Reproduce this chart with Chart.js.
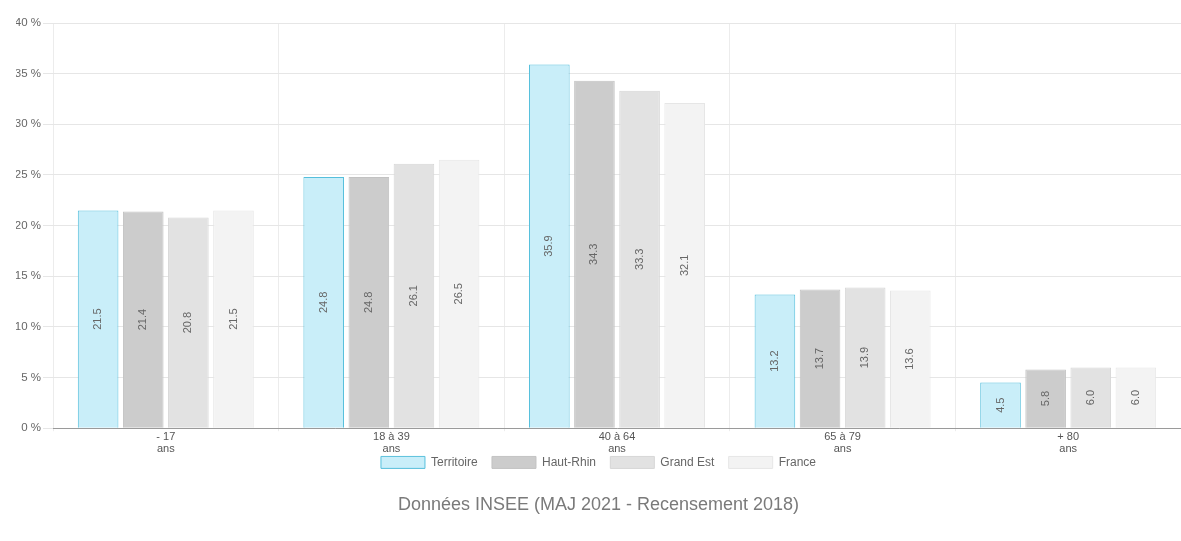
<!DOCTYPE html>
<html>
<head>
<meta charset="utf-8">
<script src="https://cdn.jsdelivr.net/npm/chart.js@4"></script>
<style>
html,body{margin:0;padding:0;background:#fff;}
#wrap{width:1181px;height:541px;position:relative;}
</style>
</head>
<body>
<div id="wrap"><canvas id="c"></canvas></div>
<script>
const categories = [['- 17','ans'],['18 à 39','ans'],['40 à 64','ans'],['65 à 79','ans'],['+ 80','ans']];
const seriesNames = ['Territoire','Haut-Rhin','Grand Est','France'];
const territoire = [21.5, 24.8, 35.9, 13.2, 4.5];
const hautRhin = [21.4, 24.8, 34.3, 13.7, 5.8];
const grandEst = [20.8, 26.1, 33.3, 13.9, 6.0];
const france = [21.5, 26.5, 32.1, 13.6, 6.0];
const yTicks = [0,5,10,15,20,25,30,35,40];
const titleText = 'Données INSEE (MAJ 2021 - Recensement 2018)';

const FONT = '"Liberation Sans", Arial, sans-serif';
const fills = ['#c9eef9','#cccccc','#e2e2e2','#f3f3f3'];
const borders = ['#55bfdc','#c2c2c2','#d6d6d6','#e6e6e6'];

const labelPlugin = {
  id:'barLabels',
  afterDatasetsDraw(chart){
    const ctx = chart.ctx;
    ctx.save();
    ctx.font = '11px ' + FONT;
    ctx.fillStyle = '#666';
    ctx.textAlign = 'center';
    ctx.textBaseline = 'middle';
    chart.data.datasets.forEach((ds,i)=>{
      const meta = chart.getDatasetMeta(i);
      meta.data.forEach((bar,j)=>{
        const v = ds.data[j];
        const cy = (bar.y + bar.base)/2;
        ctx.save();
        ctx.translate(bar.x, cy);
        ctx.rotate(-Math.PI/2);
        ctx.fillText(v.toFixed(1), 0, 0);
        ctx.restore();
      });
    });
    ctx.restore();
  }
};

const seriesData = [territoire, hautRhin, grandEst, france];

new Chart(document.getElementById('c'), {
  type:'bar',
  data:{
    labels: categories,
    datasets: seriesNames.map((n,i)=>({
      label:n,
      data:seriesData[i],
      backgroundColor:fills[i],
      borderColor:borders[i],
      borderWidth:1,
      categoryPercentage:0.8,
      barPercentage:0.9
    }))
  },
  options:{
    responsive:true,
    maintainAspectRatio:false,
    animation:false,
    layout:{padding:{top:23,right:0,left:16,bottom:21}},
    plugins:{
      legend:{
        position:'bottom',
        labels:{
          boxWidth:44, boxHeight:12,
          color:'#666',
          font:{size:12, family:FONT},
          padding:1,
          generateLabels(chart){
            const items = Chart.defaults.plugins.legend.labels.generateLabels(chart);
            items.forEach((it,i)=>{ if (i < items.length-1) it.text = it.text + '\u00a0\u00a0\u00a0\u00a0'; });
            return items;
          }
        }
      },
      title:{
        display:true,
        text:titleText,
        position:'bottom',
        color:'#7a7a7a',
        font:{size:18, weight:'normal', family:FONT},
        padding:{top:16,bottom:4}
      },
      tooltip:{enabled:false}
    },
    scales:{
      x:{
        grid:{color:'#ececec', drawTicks:true, tickLength:3},
        border:{color:'#9a9a9a'},
        ticks:{color:'#555', font:{size:11, family:FONT, lineHeight:1.1}, padding:0, maxRotation:0}
      },
      y:{
        min:0, max:40,
        afterBuildTicks(axis){ axis.ticks = yTicks.map(v=>({value:v})); },
        afterFit(axis){ axis.width = 37; },
        grid:{color:'#e6e6e6', tickLength:10},
        border:{display:false},
        ticks:{color:'#666', font:{size:11.5, family:FONT}, padding:2, callback:v=>v+' %'}
      }
    }
  },
  plugins:[labelPlugin]
});
</script>
</body>
</html>
